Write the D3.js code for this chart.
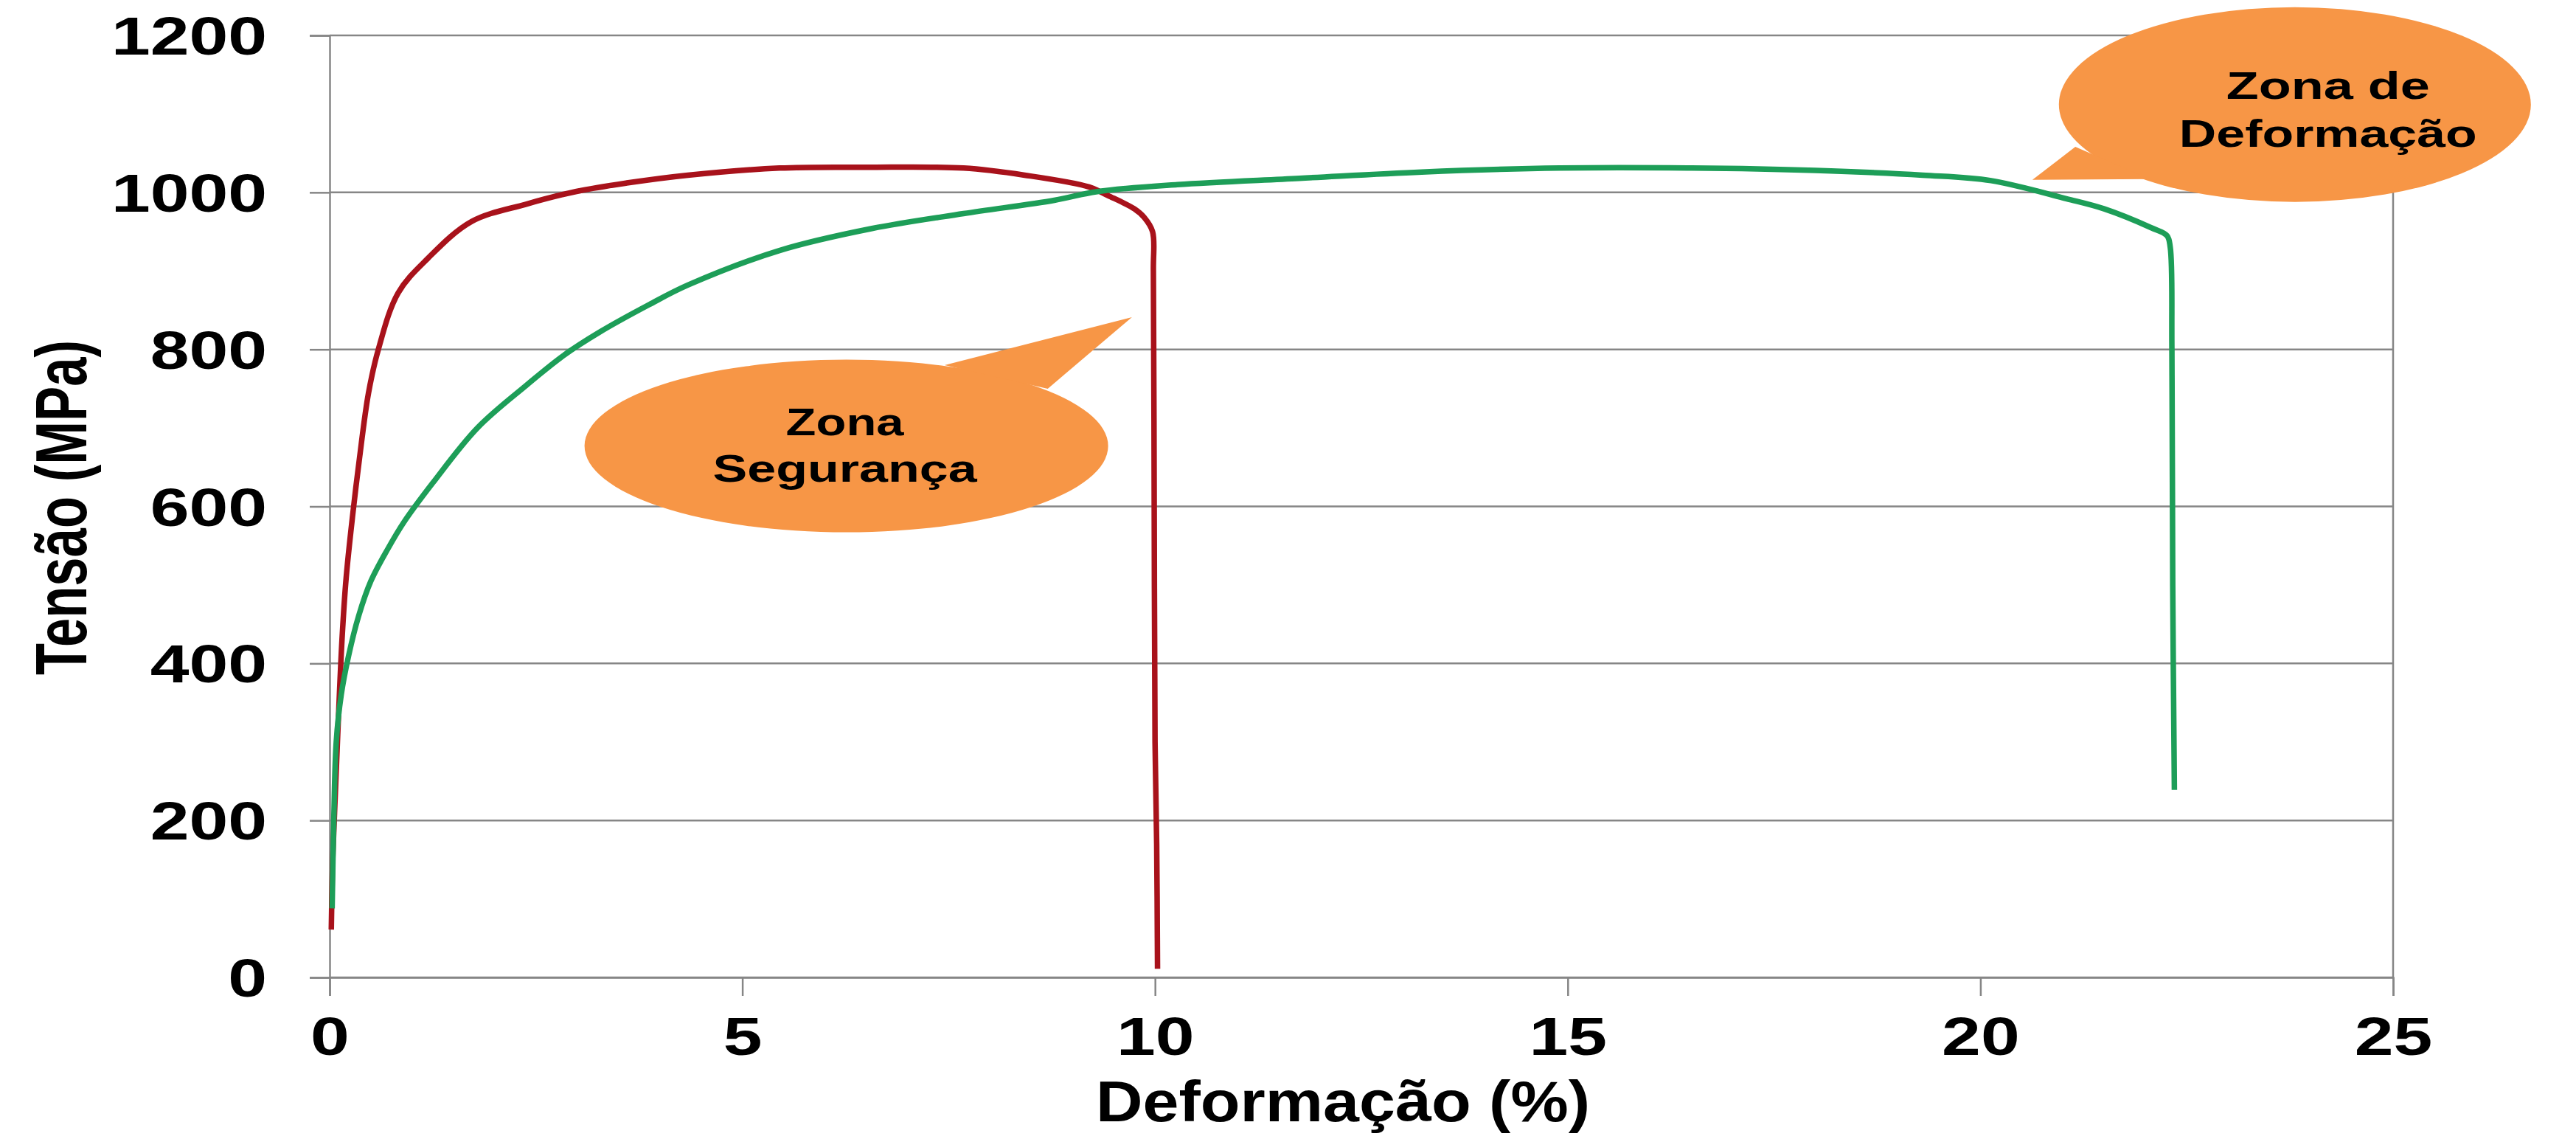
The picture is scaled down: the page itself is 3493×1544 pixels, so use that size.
<!DOCTYPE html>
<html>
<head>
<meta charset="utf-8">
<script src="https://cdn.jsdelivr.net/npm/d3@7/dist/d3.min.js"></script>
<style>
  body { margin: 0; background: #fff; }
  text { font-family: Arial, "Liberation Sans", sans-serif; font-weight: bold; fill: #000; }
</style>
</head>
<body>
<svg id="chart"></svg>
<script>
// axis ticks
const xTicks = [0, 5, 10, 15, 20, 25];
const yTicks = [0, 200, 400, 600, 800, 1000, 1200];

// red specimen: strain (%) / stress (MPa)
const redStrain = [0.02, 0.03, 0.04, 0.07, 0.10, 0.15, 0.20, 0.28, 0.36, 0.47, 0.59, 0.83, 1.19, 1.72, 2.38, 2.98, 3.6, 4.34, 5.45, 6.5, 7.68, 8.42, 9.2, 9.43, 9.75, 9.87, 9.97, 9.98, 9.99, 10.0, 10.02, 10.03];
const redStress = [61, 120, 159, 237, 315, 431, 509, 590, 660, 744, 800, 872, 916, 963, 985, 1001, 1012, 1022, 1031, 1032, 1031, 1022, 1007, 996, 979, 968, 950, 900, 600, 300, 170, 11];

// green specimen: strain (%) / stress (MPa)
const greenStrain = [0.03, 0.05, 0.08, 0.14, 0.23, 0.35, 0.5, 0.7, 0.9, 1.25, 1.79, 2.38, 2.83, 3.27, 3.87, 4.34, 5.45, 6.57, 7.68, 8.78, 9.3, 10.27, 11.75, 13.23, 14.9, 16.5, 18.0, 19.3, 20.13, 21.04, 21.5, 22.07, 22.26, 22.3, 22.32, 22.33, 22.35];
const greenStress = [88, 200, 300, 360, 410, 460, 505, 545, 580, 630, 700, 754, 792, 822, 857, 882, 926, 954, 973, 990, 1001, 1010, 1018, 1026, 1031, 1031, 1028, 1022, 1015, 992, 979, 955, 945, 930, 800, 500, 239];

const bubbleTexts = [["Zona", "Segurança"], ["Zona de", "Deformação"]];

const W = 3493, H = 1544;
const plot = { left: 447, right: 3245, top: 48, bottom: 1325 };

const svg = d3.select("#chart").attr("width", W).attr("height", H);

const x = d3.scaleLinear().domain([0, 25]).range([plot.left, plot.right]);
const y = d3.scaleLinear().domain([0, 1200]).range([plot.bottom, plot.top]);

const gridColor = "#868686";

// stretch horizontal text to the measured width ratio
function widen(sel, k) {
    sel.each(function() {
        const len = this.getComputedTextLength();
        d3.select(this).attr("textLength", len * k).attr("lengthAdjust", "spacingAndGlyphs");
    });
}

// horizontal gridlines
svg.append("g")
    .selectAll("line")
    .data(yTicks)
    .join("line")
    .attr("x1", plot.left).attr("x2", plot.right)
    .attr("y1", d => y(d)).attr("y2", d => y(d))
    .attr("stroke", gridColor).attr("stroke-width", 2.5);

// y axis
const yAxis = svg.append("g")
    .attr("transform", `translate(${plot.left},0)`)
    .call(d3.axisLeft(y).tickValues(yTicks).tickSize(27).tickPadding(0).tickFormat(d3.format("d")));
yAxis.select(".domain").attr("stroke", gridColor).attr("stroke-width", 2.5);
yAxis.selectAll(".tick line").attr("stroke", gridColor).attr("stroke-width", 2.5);
yAxis.selectAll(".tick text")
    .attr("x", -85).attr("dy", "0.35em")
    .style("font-size", "73px");

// right border
svg.append("line")
    .attr("x1", x(25)).attr("x2", x(25))
    .attr("y1", y(1200)).attr("y2", y(0))
    .attr("stroke", gridColor).attr("stroke-width", 2.5);

// x axis
const xAxis = svg.append("g")
    .attr("transform", `translate(0,${plot.bottom})`)
    .call(d3.axisBottom(x).tickValues(xTicks).tickSize(25).tickPadding(0).tickFormat(d3.format("d")));
xAxis.select(".domain").attr("stroke", gridColor).attr("stroke-width", 2.5);
xAxis.selectAll(".tick line").attr("stroke", gridColor).attr("stroke-width", 2.5);
xAxis.selectAll(".tick text")
    .attr("y", 105).attr("dy", 0)
    .style("font-size", "73px");

widen(yAxis.selectAll(".tick text"), 1.3);
widen(xAxis.selectAll(".tick text"), 1.3);

// curves
const line = d3.line()
    .x(d => x(d[0]))
    .y(d => y(d[1]))
    .curve(d3.curveCatmullRom.alpha(0.5));

const series = [
    { pts: d3.zip(redStrain, redStress), color: "#a8121b" },
    { pts: d3.zip(greenStrain, greenStress), color: "#1d9e58" }
];

svg.append("g")
    .selectAll("path")
    .data(series)
    .join("path")
    .attr("d", d => line(d.pts))
    .attr("fill", "none")
    .attr("stroke", d => d.color)
    .attr("stroke-width", 7.5)
    .attr("stroke-linejoin", "round");

// speech bubbles
const bubbles = [
    { cx: 6.26, cy: 677, rx: 355, ry: 117, tip: [9.72, 841], b1: [7.45, 780], b2: [8.7, 750],
      lines: bubbleTexts[0], tx: -2, ty: [-15, 48], lens: [160, 358] },
    { cx: 23.81, cy: 1112, rx: 320, ry: 132, tip: [20.63, 1016], b1: [21.15, 1058], b2: [22.05, 1017],
      lines: bubbleTexts[1], tx: 45, ty: [-8, 57], lens: [276, 404] }
];

const orange = "#f79646";
const bg = svg.append("g");
bubbles.forEach(b => {
    bg.append("ellipse")
        .attr("cx", x(b.cx)).attr("cy", y(b.cy))
        .attr("rx", b.rx).attr("ry", b.ry)
        .attr("fill", orange);
    bg.append("polygon")
        .attr("points", [b.tip, b.b1, b.b2].map(p => [x(p[0]), y(p[1])].join(",")).join(" "))
        .attr("fill", orange);
    b.lines.forEach((t, i) => {
        bg.append("text")
            .attr("x", x(b.cx) + b.tx)
            .attr("y", y(b.cy) + b.ty[i])
            .attr("text-anchor", "middle")
            .attr("textLength", b.lens[i])
            .attr("lengthAdjust", "spacingAndGlyphs")
            .style("font-size", "52px")
            .text(t);
    });
});

// axis titles
svg.append("text")
    .attr("x", 1821).attr("y", 1520)
    .attr("text-anchor", "middle")
    .attr("textLength", 670)
    .attr("lengthAdjust", "spacingAndGlyphs")
    .style("font-size", "78px")
    .text("Deformação (%)");

svg.append("text")
    .attr("transform", "translate(117,688) scale(1.25,1) rotate(-90)")
    .attr("text-anchor", "middle")
    .attr("textLength", 454)
    .attr("lengthAdjust", "spacingAndGlyphs")
    .style("font-size", "78px")
    .text("Tensão (MPa)");
</script>
</body>
</html>
